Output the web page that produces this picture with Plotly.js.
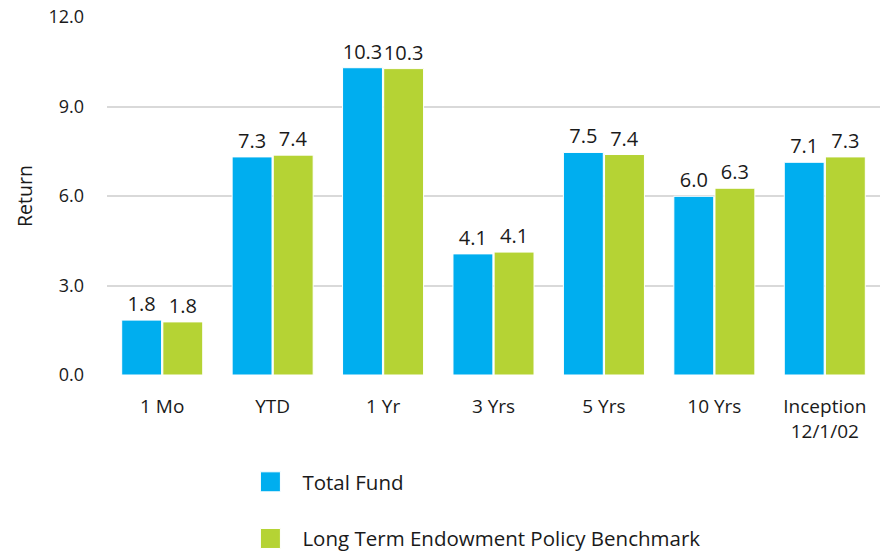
<!DOCTYPE html>
<html><head><meta charset="utf-8">
<script src="https://cdn.plot.ly/plotly-3.0.1.min.js"></script>
<style>body{margin:0;background:#fff}#c{width:886px;height:553px}</style>
</head><body><div id="c"></div>
<script>
const categories = ["1 Mo", "YTD", "1 Yr", "3 Yrs", "5 Yrs", "10 Yrs", "Inception<br>12/1/02"];
const totalFund = [1.84, 7.31, 10.30, 4.06, 7.46, 5.99, 7.13];
const benchmark = [1.78, 7.37, 10.27, 4.12, 7.39, 6.26, 7.31];
const seriesNames = ["Total Fund", "Long Term Endowment Policy Benchmark"];
const yTicks = [0, 3, 6, 9, 12];

const FONT = "Open Sans, Lato, sans-serif";
const traces = [
  {type: "bar", name: seriesNames[0], x: categories, y: totalFund, legendgroup: "a",
   marker: {color: "#00AEEF", line: {color: "#ffffff", width: 1}},
   texttemplate: "%{y:.1f}", textposition: "outside", cliponaxis: false, constraintext: "none",
   textfont: {family: FONT, size: 20, color: "#1a1a1a"}},
  {type: "bar", name: seriesNames[1], x: categories, y: benchmark, legendgroup: "b",
   marker: {color: "#B5D334", line: {color: "#ffffff", width: 1}},
   texttemplate: "%{y:.1f}", textposition: "outside", cliponaxis: false, constraintext: "none",
   textfont: {family: FONT, size: 20, color: "#1a1a1a"}}
];
const layout = {
  width: 886, height: 553,
  margin: {l: 107, r: 6, t: 17, b: 178, autoexpand: false},
  paper_bgcolor: "#fff", plot_bgcolor: "#fff",
  font: {family: FONT, size: 18, color: "#1a1a1a"},
  barmode: "group", bargap: 0.255, bargroupgap: 0.03,
  showlegend: true,
  legend: {orientation: "v", x: 0.17, xanchor: "left", y: -0.243, yanchor: "top",
           tracegroupgap: 27, itemwidth: 54, font: {family: FONT, size: 20.5, color: "#1a1a1a"},
           traceorder: "grouped"},
  xaxis: {type: "category", showgrid: false, zeroline: false, showline: false,
          ticks: "", ticklabelstandoff: 18, tickfont: {family: FONT, size: 19, color: "#1a1a1a"}},
  yaxis: {range: [0, 12], tickvals: yTicks, tickformat: ".1f", showgrid: true,
          gridcolor: "#d9d9d9", gridwidth: 2, zeroline: false, showline: false,
          ticks: "", ticklabelstandoff: 22,
          tickfont: {family: FONT, size: 18, color: "#1a1a1a"},
          title: {text: "Return", standoff: 10, font: {family: FONT, size: 19.5, color: "#1a1a1a"}}}
};
Plotly.newPlot("c", traces, layout, {displayModeBar: false, staticPlot: true}).then(function (gd) {
  gd.querySelectorAll(".legendpoints path").forEach(function (p) {
    p.setAttribute("d", "M10,10H-10V-10H10Z");
  });
});
</script></body></html>
